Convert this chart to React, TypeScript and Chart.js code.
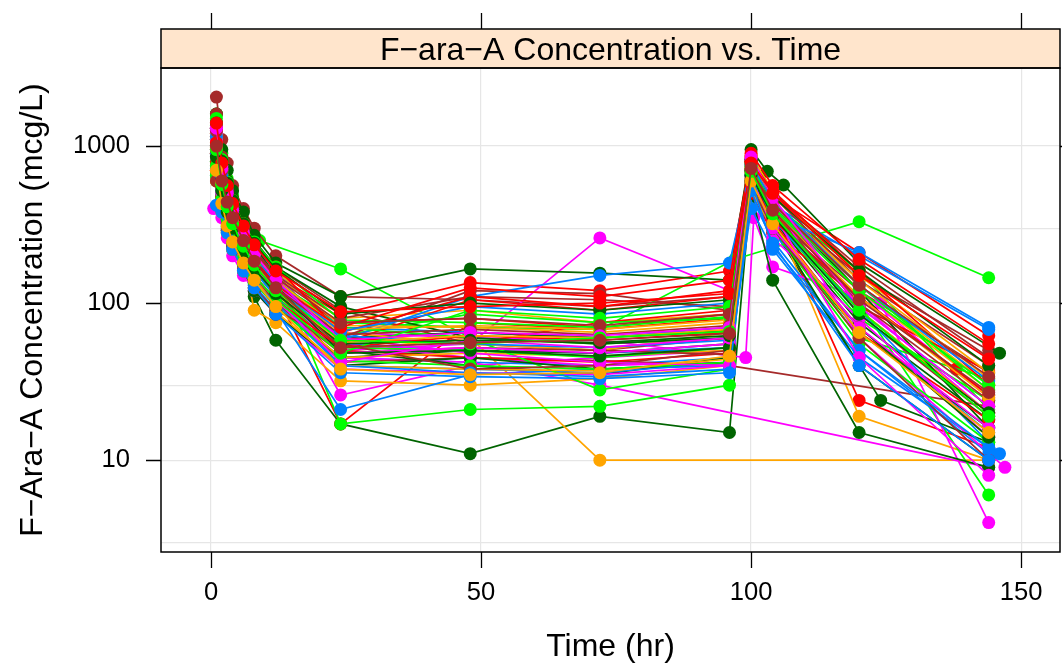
import React, { useEffect, useRef } from 'react';
import { Chart, registerables } from 'chart.js';

Chart.register(...registerables);

// ---------- axes / text ----------
const STRIP_TITLE = 'F\u2212ara\u2212A Concentration vs. Time';
const X_TITLE = 'Time (hr)';
const Y_TITLE = 'F\u2212Ara\u2212A Concentration (mcg/L)';
const X_TICKS = [0, 50, 100, 150];
const Y_GRID = [3, 10, 30, 100, 300, 1000];
const Y_LABELS = [10, 100, 1000];
const X_MIN = -9.26;
const X_MAX = 157.2;
const Y_MIN = 2.6;
const Y_MAX = 3140;

// lattice superpose colours (cycled by subject)
const COLORS = ['#0080ff', '#ff00ff', '#006400', '#ff0000', '#ffa500', '#00ff00', '#a52a2a'];

// ---------- sampling times ----------
const T = [1, 2, 3, 4, 6, 8, 12, 24, 48, 72, 96, 100, 104, 120, 144];
const T_146 = [1, 2, 3, 4, 6, 8, 12, 24, 48, 72, 96, 100, 104, 120, 146];
const T_147 = [0.5, 2, 3, 4, 6, 8, 12, 24, 48, 72, 96, 100, 104, 120, 147];
const T_SHORT = [1, 2, 3, 4, 6, 8, 12, 24, 48, 72, 144];
const T_G1 = [1, 2, 3, 4, 6, 9, 24, 48, 72, 96, 100, 104, 120, 144];
const T_G2 = [1, 2, 3, 4, 6, 8, 12, 24, 48, 72, 97, 120, 144];
const T_M4 = [1, 2, 3, 4, 6, 8, 12, 24, 48, 72, 99, 100.5, 104, 120, 144];
const T_124 = [1, 2, 3, 4, 6, 8, 12, 24, 48, 72, 96, 100, 104, 124, 144];
const T_DG2 = [1, 2, 3, 4, 6, 8, 12, 24, 48, 72, 96, 100, 103, 106, 120, 146];
const T_R5 = [1, 2, 3, 4, 6, 8, 12, 24, 48, 72, 96, 100, 104, 138];
const T_BR3 = [1, 2, 3, 4, 6, 8, 12, 24, 48, 72, 96, 144];

// ---------- concentrations (mcg/L) per subject ----------
const b1 = [1100, 620, 450, 360, 250, 180, 120, 55, 50, 48, 52, 620, 330, 95, 22];
const m1 = [1250, 700, 480, 380, 270, 200, 140, 26, 40, 45, 50, 820, 420, 120, 25];
const g1 = [1000, 650, 480, 380, 260, 110, 58, 17, 11, 19, 15, 550, 300, 40, 10];
const r1 = [1150, 680, 500, 400, 290, 220, 150, 85, 135, 120, 160, 850, 480, 210, 62];
const o1 = [900, 560, 400, 320, 230, 170, 115, 50, 60, 10, 10];
const gr1 = [1600, 900, 620, 480, 330, 250, 165, 60, 55, 60, 700, 380, 110, 26];
const br1 = [2050, 1100, 780, 560, 400, 300, 200, 110, 105, 95, 110, 700, 420, 150, 50];

const b2 = [800, 480, 340, 260, 190, 140, 95, 45, 42, 40, 45, 560, 280, 70, 15];
const m2 = [900, 520, 380, 300, 220, 160, 110, 50, 55, 260, 120, 800, 400, 100, 20];
const g2 = [1600, 950, 700, 520, 380, 270, 180, 110, 165, 155, 140, 950, 690, 565, 180, 48];
const r2 = [850, 520, 380, 300, 220, 170, 115, 17, 75, 68, 80, 700, 380, 90, 20];
const o2 = [1200, 700, 500, 390, 280, 210, 145, 80, 90, 75, 85, 850, 500, 130, 30];
const gr2 = [1100, 650, 470, 370, 260, 195, 135, 75, 70, 68, 190, 330, 145];
const br2 = [1600, 850, 600, 450, 320, 240, 170, 90, 55, 50, 60, 650, 350, 120, 36];

const b3 = [1300, 700, 520, 420, 300, 230, 160, 70, 65, 60, 70, 700, 420, 200, 68];
const m3 = [700, 420, 320, 240, 175, 135, 95, 45, 42, 30, 9];
const g3 = [1100, 700, 520, 420, 300, 230, 150, 60, 65, 60, 67, 650, 300, 65, 16];
const r3 = [1000, 600, 430, 350, 250, 190, 130, 75, 80, 70, 85, 620, 400, 24, 12];
const o3 = [800, 480, 350, 270, 200, 90, 75, 32, 30, 33, 40, 680, 380, 19, 10];
const gr3 = [1350, 780, 560, 440, 310, 240, 165, 17, 21, 22, 30, 780, 420, 100, 6];
const br3 = [900, 550, 400, 320, 230, 175, 120, 42, 45, 43, 40, 22];

const b4 = [650, 400, 300, 230, 160, 130, 90, 21, 35, 38, 40, 480, 250, 50, 11];
const m4 = [1400, 750, 520, 400, 280, 210, 145, 65, 60, 58, 45, 350, 170, 110, 26];
const g4 = [750, 480, 350, 270, 200, 150, 100, 45, 50, 48, 55, 600, 340, 75, 18];
const r4 = [1200, 700, 500, 400, 280, 210, 140, 60, 55, 75, 90, 750, 450, 95, 37];
const o4 = [1050, 620, 450, 360, 260, 200, 130, 65, 55, 50, 65, 800, 440, 120, 28];
const gr4 = [1000, 620, 450, 350, 250, 185, 125, 62, 85, 75, 80, 720, 430, 160, 21];
const br4 = [1100, 650, 470, 370, 260, 200, 135, 60, 120, 115, 90, 700, 480, 140, 40];

const b5 = [950, 560, 420, 330, 230, 175, 125, 58, 110, 150, 180, 700, 360, 210, 70];
const m5 = [1000, 580, 420, 330, 240, 170, 120, 55, 45, 40, 42, 760, 380, 100, 4];
const g5 = [900, 550, 400, 320, 230, 175, 120, 50, 40, 35, 45, 500, 140, 15, 9];
const r5 = [700, 430, 320, 250, 180, 140, 100, 50, 45, 42, 48, 500, 280, 38];
const o5 = [700, 450, 330, 260, 190, 145, 100, 45, 48, 46, 50, 620, 350, 90, 20];
const gr5 = [800, 500, 370, 290, 210, 160, 110, 52, 50, 45, 52, 600, 320, 60, 33];
const br5 = [750, 460, 340, 270, 190, 150, 100, 48, 52, 50, 47, 560, 400, 85, 19];

const b6 = [720, 450, 330, 250, 180, 135, 100, 40, 38, 36, 42, 400, 220, 45, 12];
const m6 = [400, 350, 260, 200, 150, 120, 85, 38, 36, 35, 40, 820, 450, 60, 9];
const g6 = [1300, 800, 600, 460, 330, 250, 170, 95, 60, 55, 60, 780, 440, 120, 16];
const r6 = [950, 560, 400, 320, 230, 180, 120, 55, 105, 90, 110, 580, 330, 65, 18];
const o6 = [1400, 800, 580, 450, 320, 240, 160, 72, 70, 65, 75, 870, 520, 150, 36];
const gr6 = [1200, 680, 480, 380, 270, 200, 140, 70, 60, 28, 38, 650, 350, 80, 24];
const br6 = [1300, 720, 520, 400, 290, 220, 150, 80, 110, 105, 95, 800, 500, 170, 45];

const b7 = [1000, 600, 430, 340, 240, 190, 130, 62, 55, 52, 58, 650, 340, 90, 11];
const m7 = [1200, 640, 460, 350, 250, 190, 125, 48, 52, 48, 55, 700, 260, 80, 14];
const g7 = [600, 400, 290, 220, 160, 120, 85, 40, 45, 38, 42, 600, 320, 24, 13];
const r7 = [1300, 750, 560, 440, 320, 240, 170, 65, 110, 95, 120, 800, 520, 160, 30];
const o7 = [600, 380, 280, 220, 160, 125, 88, 40, 38, 37, 44, 520, 300, 70, 14];
const gr7 = [650, 420, 310, 240, 175, 135, 95, 43, 40, 38, 42, 560, 300, 55, 13];
const br7 = [600, 390, 290, 230, 165, 125, 90, 55, 38, 40, 50, 560, 300, 60, 10];

const b8 = [880, 520, 380, 300, 210, 160, 110, 40, 36, 34, 38, 600, 230, 50, 12];
const m8 = [1100, 620, 440, 350, 250, 185, 130, 60, 48, 42, 40, 830, 380, 45, 8];
const g8 = [1000, 620, 450, 360, 260, 190, 130, 48, 50, 46, 52, 700, 300, 70, 14];
const r8 = [780, 470, 340, 270, 200, 150, 105, 52, 62, 58, 65, 600, 340, 110, 26];
const o8 = [1150, 660, 480, 370, 270, 205, 140, 68, 72, 68, 78, 860, 430, 140, 33];
const gr8 = [1500, 820, 590, 450, 320, 245, 170, 78, 75, 70, 82, 760, 410, 130, 28];
const br8 = [950, 570, 410, 330, 240, 180, 125, 63, 68, 63, 72, 700, 360, 100, 24];

const b9 = [1150, 650, 470, 370, 260, 195, 135, 66, 95, 85, 100, 760, 450, 130, 32];
const m9 = [850, 500, 360, 280, 200, 150, 105, 42, 58, 52, 60, 640, 300, 70, 16];
const g9 = [1400, 800, 580, 450, 320, 240, 165, 85, 100, 90, 105, 820, 480, 160, 40];
const r9 = [1050, 600, 440, 350, 250, 190, 130, 70, 125, 110, 140, 900, 560, 190, 55];
const o9 = [980, 580, 420, 330, 235, 180, 120, 56, 62, 60, 68, 720, 390, 110, 25];
const gr9 = [750, 460, 340, 270, 195, 150, 105, 48, 90, 80, 95, 740, 400, 120, 30];
const br9 = [1250, 700, 500, 390, 280, 215, 145, 75, 80, 72, 85, 680, 430, 130, 34];

const b10 = [420, 380, 280, 220, 160, 125, 85, 36, 34, 33, 36, 520, 240, 40, 10];
const m10 = [1300, 720, 500, 390, 280, 205, 140, 58, 65, 62, 70, 850, 470, 95, 22];
const g10 = [850, 520, 380, 300, 215, 165, 115, 55, 58, 56, 62, 650, 360, 85, 20];
const r10 = [1400, 780, 560, 430, 310, 235, 160, 88, 95, 100, 115, 780, 500, 150, 44];
const o10 = [700, 430, 310, 245, 180, 140, 95, 38, 35, 36, 46, 600, 320, 65, 15];
const gr10 = [950, 570, 410, 320, 230, 175, 120, 58, 55, 60, 66, 690, 370, 90, 19];
const br10 = [1000, 600, 440, 350, 250, 185, 125, 52, 56, 58, 64, 720, 390, 105, 27];

// subjects in ID order: [times, concentrations]
const SUBJECTS: [number[], number[]][] = [
  [T, b1], [T, m1], [T, g1], [T, r1], [T_SHORT, o1], [T_G1, gr1], [T, br1],
  [T, b2], [T, m2], [T_DG2, g2], [T, r2], [T, o2], [T_G2, gr2], [T, br2],
  [T, b3], [T_SHORT, m3], [T, g3], [T, r3], [T, o3], [T, gr3], [T_BR3, br3],
  [T, b4], [T_M4, m4], [T, g4], [T, r4], [T, o4], [T, gr4], [T, br4],
  [T, b5], [T_124, m5], [T, g5], [T_R5, r5], [T, o5], [T, gr5], [T, br5],
  [T, b6], [T_147, m6], [T, g6], [T, r6], [T, o6], [T, gr6], [T, br6],
  [T_146, b7], [T, m7], [T_124, g7], [T, r7], [T, o7], [T, gr7], [T, br7],
  [T, b8], [T, m8], [T, g8], [T, r8], [T, o8], [T, gr8], [T, br8],
  [T, b9], [T, m9], [T, g9], [T, r9], [T, o9], [T, gr9], [T, br9],
  [T, b10], [T, m10], [T, g10], [T, r10], [T, o10], [T, gr10], [T, br10],
];

const FONT = '"Liberation Sans", Arial, Helvetica, sans-serif';

const zeroPad = (s: any) => {
  s.paddingLeft = 0;
  s.paddingRight = 0;
  s.paddingTop = 0;
  s.paddingBottom = 0;
};

const decorPlugin = {
  id: 'latticeDecor',
  afterDraw(chart: any) {
    const { ctx, chartArea: a } = chart;
    const xs = chart.scales.x;
    const ys = chart.scales.y;
    const stripTop = 29;
    ctx.save();
    // strip
    ctx.fillStyle = '#ffe5cc';
    ctx.fillRect(a.left, stripTop, a.right - a.left, a.top - stripTop);
    ctx.strokeStyle = '#000';
    ctx.lineWidth = 1.5;
    ctx.strokeRect(a.left, stripTop, a.right - a.left, a.top - stripTop);
    // panel frame
    ctx.strokeRect(a.left, a.top, a.right - a.left, a.bottom - a.top);
    // tick marks
    ctx.lineWidth = 1.3;
    ctx.beginPath();
    for (const v of X_TICKS) {
      const px = Math.round(xs.getPixelForValue(v)) + 0.5;
      ctx.moveTo(px, a.bottom);
      ctx.lineTo(px, a.bottom + 16);
      ctx.moveTo(px, stripTop);
      ctx.lineTo(px, stripTop - 16);
    }
    for (const v of Y_LABELS) {
      const py = Math.round(ys.getPixelForValue(v)) + 0.5;
      ctx.moveTo(a.left, py);
      ctx.lineTo(a.left - 15, py);
      ctx.moveTo(a.right, py);
      ctx.lineTo(a.right + 15, py);
    }
    ctx.stroke();
    // texts
    ctx.fillStyle = '#000';
    ctx.font = '32px ' + FONT;
    ctx.textAlign = 'center';
    ctx.textBaseline = 'alphabetic';
    const cx = (a.left + a.right) / 2;
    ctx.fillText(STRIP_TITLE, cx, 60);
    ctx.fillText(X_TITLE, cx, 656);
    ctx.translate(42, (a.top + a.bottom) / 2);
    ctx.rotate(-Math.PI / 2);
    ctx.fillText(Y_TITLE, 0, 0);
    ctx.restore();
  },
};

export default function App() {
  const canvasRef = useRef<HTMLCanvasElement | null>(null);

  useEffect(() => {
    if (!canvasRef.current) return;
    const datasets = SUBJECTS.map(([times, conc], i) => {
      const color = COLORS[i % COLORS.length];
      return {
        label: 'Subject ' + (i + 1),
        data: times.map((t, j) => ({ x: t, y: conc[j] })),
        borderColor: color,
        backgroundColor: color,
        pointBackgroundColor: color,
        pointBorderWidth: 0,
        pointRadius: 6.5,
        borderWidth: 1.7,
        tension: 0,
        fill: false,
      };
    }).reverse();

    const chart = new Chart(canvasRef.current, {
      type: 'line',
      data: { datasets },
      options: {
        animation: false,
        responsive: false,
        maintainAspectRatio: false,
        layout: { autoPadding: false, padding: { top: 68, right: 2, left: 0, bottom: 0 } },
        plugins: { legend: { display: false }, tooltip: { enabled: false } },
        scales: {
          x: {
            type: 'linear',
            min: X_MIN,
            max: X_MAX,
            afterBuildTicks: (s: any) => {
              s.ticks = X_TICKS.map((v) => ({ value: v }));
            },
            afterFit: (s: any) => {
              s.height = 114;
              zeroPad(s);
            },
            grid: { color: '#e6e6e6', lineWidth: 1.2, drawTicks: false },
            border: { display: false },
            ticks: {
              autoSkip: false,
              maxRotation: 0,
              padding: 26,
              color: '#000',
              font: { family: FONT, size: 25.6 },
              callback: (v: any) => String(v),
            },
          },
          y: {
            type: 'logarithmic',
            min: Y_MIN,
            max: Y_MAX,
            afterBuildTicks: (s: any) => {
              s.ticks = Y_GRID.map((v) => ({ value: v }));
            },
            afterFit: (s: any) => {
              s.width = 161;
              zeroPad(s);
            },
            grid: { color: '#e6e6e6', lineWidth: 1.2, drawTicks: false },
            border: { display: false },
            ticks: {
              autoSkip: false,
              padding: 31,
              color: '#000',
              font: { family: FONT, size: 25.6 },
              callback: (v: any) => (Y_LABELS.includes(Number(v)) ? String(v) : ''),
            },
          },
        },
      },
      plugins: [decorPlugin],
    });
    return () => chart.destroy();
  }, []);

  return (
    <div style={{ position: 'fixed', left: 0, top: 0, width: 1062, height: 666, background: '#fff' }}>
      <canvas ref={canvasRef} width={1062} height={666} style={{ width: 1062, height: 666 }} />
    </div>
  );
}
